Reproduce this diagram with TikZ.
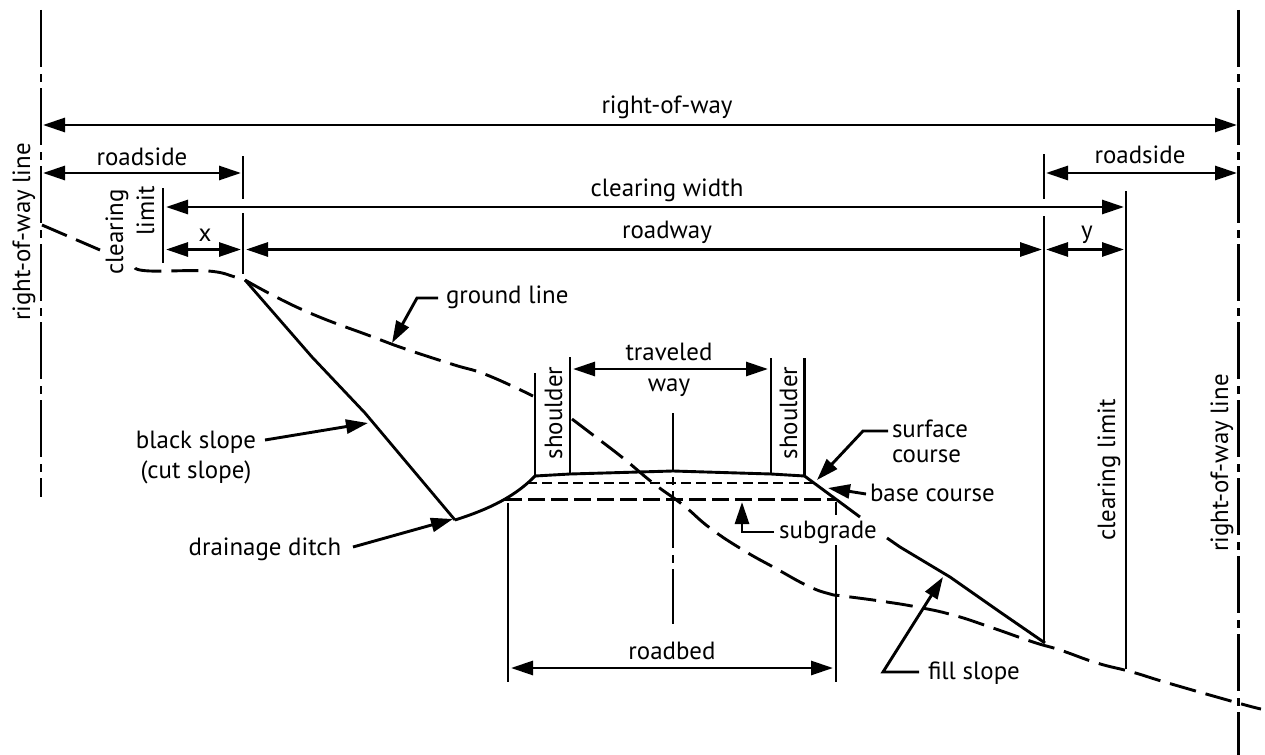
\documentclass[tikz,border=0pt]{standalone}
\usepackage{fontspec}
\setmainfont{PT Sans}
\usetikzlibrary{arrows.meta}
\tikzset{
  line/.style={line width=2.9bp,black},
  thinl/.style={line width=2.8bp,black},
  dimarrow/.style={line width=2.9bp,{Triangle[length=22bp,width=14bp]}-{Triangle[length=22bp,width=14bp]}},
  leader/.style={line width=2.9bp,-{Triangle[length=22bp,width=14bp]},line join=miter},
  centerline/.style={line width=2.9bp,dash pattern=on 57bp off 7bp on 8bp off 6bp},
  ground/.style={line width=2.9bp,dash pattern=on 27bp off 10bp},
  lab/.style={anchor=base,inner sep=0pt,outer sep=0pt,font=\fontsize{25}{28}\selectfont},
  vlab/.style={lab,rotate=90},
}
\begin{document}
\begin{tikzpicture}[x=1bp,y=-1bp]
\useasboundingbox (0,0) rectangle (1265,755);
% right-of-way lines
\coordinate (rowLtop) at (41,10); \coordinate (rowLbot) at (41,497);
\coordinate (rowRtop) at (1238.5,10); \coordinate (rowRbot) at (1238.5,755);
\draw[centerline] (rowLtop) -- (rowLbot);
\draw[centerline] (rowRtop) -- (rowRbot);
% dimension ticks
\coordinate (t1a) at (243,156); \coordinate (t1b) at (243,199);
\coordinate (t1c) at (243,213); \coordinate (t1d) at (243,274);
\draw[line] (t1a) -- (t1b) (t1c) -- (t1d);
\coordinate (cl1a) at (163,188); \coordinate (cl1b) at (163,263);
\draw[line] (cl1a) -- (cl1b);
\coordinate (t2a) at (1044,154); \coordinate (t2b) at (1044,199);
\coordinate (t2c) at (1044,216); \coordinate (t2d) at (1044,642);
\draw[line] (t2a) -- (t2b) (t2c) -- (t2d);
\coordinate (cl2a) at (1126,191); \coordinate (cl2b) at (1126,669);
\draw[line] (cl2a) -- (cl2b);
% dimension arrows
\coordinate (d1a) at (43,125); \coordinate (d1b) at (1237,125);
\draw[dimarrow] (d1a) -- (d1b);
\coordinate (d2a) at (43,173); \coordinate (d2b) at (241,173);
\draw[dimarrow] (d2a) -- (d2b);
\coordinate (d3a) at (1046,173); \coordinate (d3b) at (1237,173);
\draw[dimarrow] (d3a) -- (d3b);
\coordinate (d4a) at (166,207); \coordinate (d4b) at (1124,207);
\draw[dimarrow] (d4a) -- (d4b);
\coordinate (d5a) at (166,249.5); \coordinate (d5b) at (241,249.5);
\draw[dimarrow] (d5a) -- (d5b);
\coordinate (d6a) at (246,249.5); \coordinate (d6b) at (1042,249.5);
\draw[dimarrow] (d6a) -- (d6b);
\coordinate (d7a) at (1046,249.5); \coordinate (d7b) at (1124,249.5);
\draw[dimarrow] (d7a) -- (d7b);
\coordinate (d8a) at (573,369); \coordinate (d8b) at (768,369);
\draw[dimarrow] (d8a) -- (d8b);
\coordinate (d9a) at (511,668); \coordinate (d9b) at (833,668);
\draw[dimarrow] (d9a) -- (d9b);
% shoulder verticals
\coordinate (s1a) at (535,373); \coordinate (s1b) at (535,476);
\coordinate (s2a) at (570,357); \coordinate (s2b) at (570,474);
\coordinate (s3a) at (771,358); \coordinate (s3b) at (771,474);
\coordinate (s4a) at (804.5,358); \coordinate (s4b) at (804.5,476);
\draw[line] (s1a) -- (s1b) (s2a) -- (s2b) (s3a) -- (s3b) (s4a) -- (s4b);
% road surface
\coordinate (crown) at (673,471);
\draw[line,line join=round] (s1b) -- (s2b) -- (crown) -- (s3b) -- (s4b);
% centre line
\coordinate (cla) at (673,413); \coordinate (clb) at (673,624);
\draw[centerline] (cla) -- (clb);
% courses
\coordinate (c1a) at (527,483); \coordinate (c1b) at (815,483);
\draw[line,dash pattern=on 10bp off 5.4bp] (c1a) -- (c1b);
\coordinate (c2a) at (505,499.5); \coordinate (c2b) at (837,499.5);
\draw[line,dash pattern=on 17bp off 6bp] (c2a) -- (c2b);
% roadbed verticals
\coordinate (b1a) at (508,503); \coordinate (b1b) at (508,682);
\coordinate (b2a) at (836,502); \coordinate (b2b) at (836,515);
\coordinate (b2c) at (836,545); \coordinate (b2d) at (836,682);
\draw[line] (b1a) -- (b1b) (b2a) -- (b2b) (b2c) -- (b2d);
% slopes
\coordinate (g1) at (245,280);
\coordinate (g2) at (455,520);
\draw[thinl,line join=round] (g1) -- (312,357) -- (365,413) -- (g2);
\draw[line] (g2) .. controls (480,512) and (512,500) .. (s1b);
\coordinate (g3) at (860,517);
\draw[line] (s4b) -- (g3);
\coordinate (g4) at (887,538);
\coordinate (g5) at (1045,643);
\draw[line,line join=round] (g4) -- (900,547) -- (950,577) -- (1000,612) -- (g5);
% ground line
\draw[ground] plot[smooth,tension=.6] coordinates {(42,225) (100,250)};
\draw[ground] plot[smooth,tension=.7] coordinates {(135,268) (150,271) (208,271) (235,277) (243,280)};
\draw[ground] plot[smooth,tension=.8] coordinates {(g1) (303,310) (373,337) (407,349.5) (453,364.5) (487,375) (533,396)};
\draw[ground] plot[smooth,tension=.8] coordinates {(572,419) (593,435) (623,458) (653,483) (683,505) (710,528) (743,550) (775,568) (808,586) (830,594) (843,596) (880,601) (917,607) (953,615) (990,627) (1033,642) (1060,650) (1097,663) (1132,672) (1168,683) (1238,703) (1261,709)};
% leaders
\coordinate (l1a) at (265,440); \coordinate (l1b) at (368,423);
\draw[leader] (l1a) -- (l1b);
\coordinate (l2a) at (353,547); \coordinate (l2b) at (453,519);
\draw[leader] (l2a) -- (l2b);
\coordinate (l3a) at (438,298); \coordinate (l3m) at (417,298); \coordinate (l3b) at (392,343);
\draw[leader] (l3a) -- (l3m) -- (l3b);
\coordinate (l4a) at (888,431); \coordinate (l4m) at (863,431); \coordinate (l4b) at (817,480);
\draw[leader] (l4a) -- (l4m) -- (l4b);
\coordinate (l5a) at (866,494); \coordinate (l5b) at (828,488);
\draw[leader] (l5a) -- (l5b);
\coordinate (l6a) at (774,532); \coordinate (l6m) at (742,532); \coordinate (l6b) at (742,502);
\draw[leader] (l6a) -- (l6m) -- (l6b);
\coordinate (l7a) at (919,672); \coordinate (l7m) at (883,672); \coordinate (l7b) at (943,577);
\draw[leader] (l7a) -- (l7m) -- (l7b);
% labels
\node[lab] (trow) at (667,114) {right-of-way};
\node[lab] (tcw) at (667,196) {clearing width};
\node[lab] (trw) at (667,238) {roadway};
\node[lab] (trs1) at (142,165) {roadside};
\node[lab] (trs2) at (1140,163) {roadside};
\node[lab] (tx) at (205,241.5) {x};
\node[lab] (ty) at (1087,238) {y};
\node[vlab] (tcl1) at (123,232) {clearing};
\node[vlab] (tcl2) at (154,211) {limit};
\node[vlab] (trl1) at (30,232) {right-of-way line};
\node[vlab] (trl2) at (1228,463) {right-of-way line};
\node[vlab] (tcl3) at (1115,470) {clearing limit};
\node[lab] (ttw1) at (669,360) {traveled};
\node[lab] (ttw2) at (669,391) {way};
\node[vlab] (tsh1) at (562,413) {shoulder};
\node[vlab] (tsh2) at (797,413) {shoulder};
\node[lab] (tsg) at (828,538) {subgrade};
\node[lab,anchor=base west] (tbc) at (870,501) {base course};
\node[lab,anchor=base west] (tsc1) at (892,437) {surface};
\node[lab,anchor=base west] (tsc2) at (892,462) {course};
\node[lab] (trb) at (672,659) {roadbed};
\node[lab,anchor=base west] (tfs) at (928,679) {fill slope};
\node[lab] (tbs1) at (196,448) {black slope};
\node[lab] (tbs2) at (196,478) {(cut slope)};
\node[lab] (tdd) at (265,555) {drainage ditch};
\node[lab,anchor=base west] (tgl) at (446,303) {ground line};
\end{tikzpicture}
\end{document}
